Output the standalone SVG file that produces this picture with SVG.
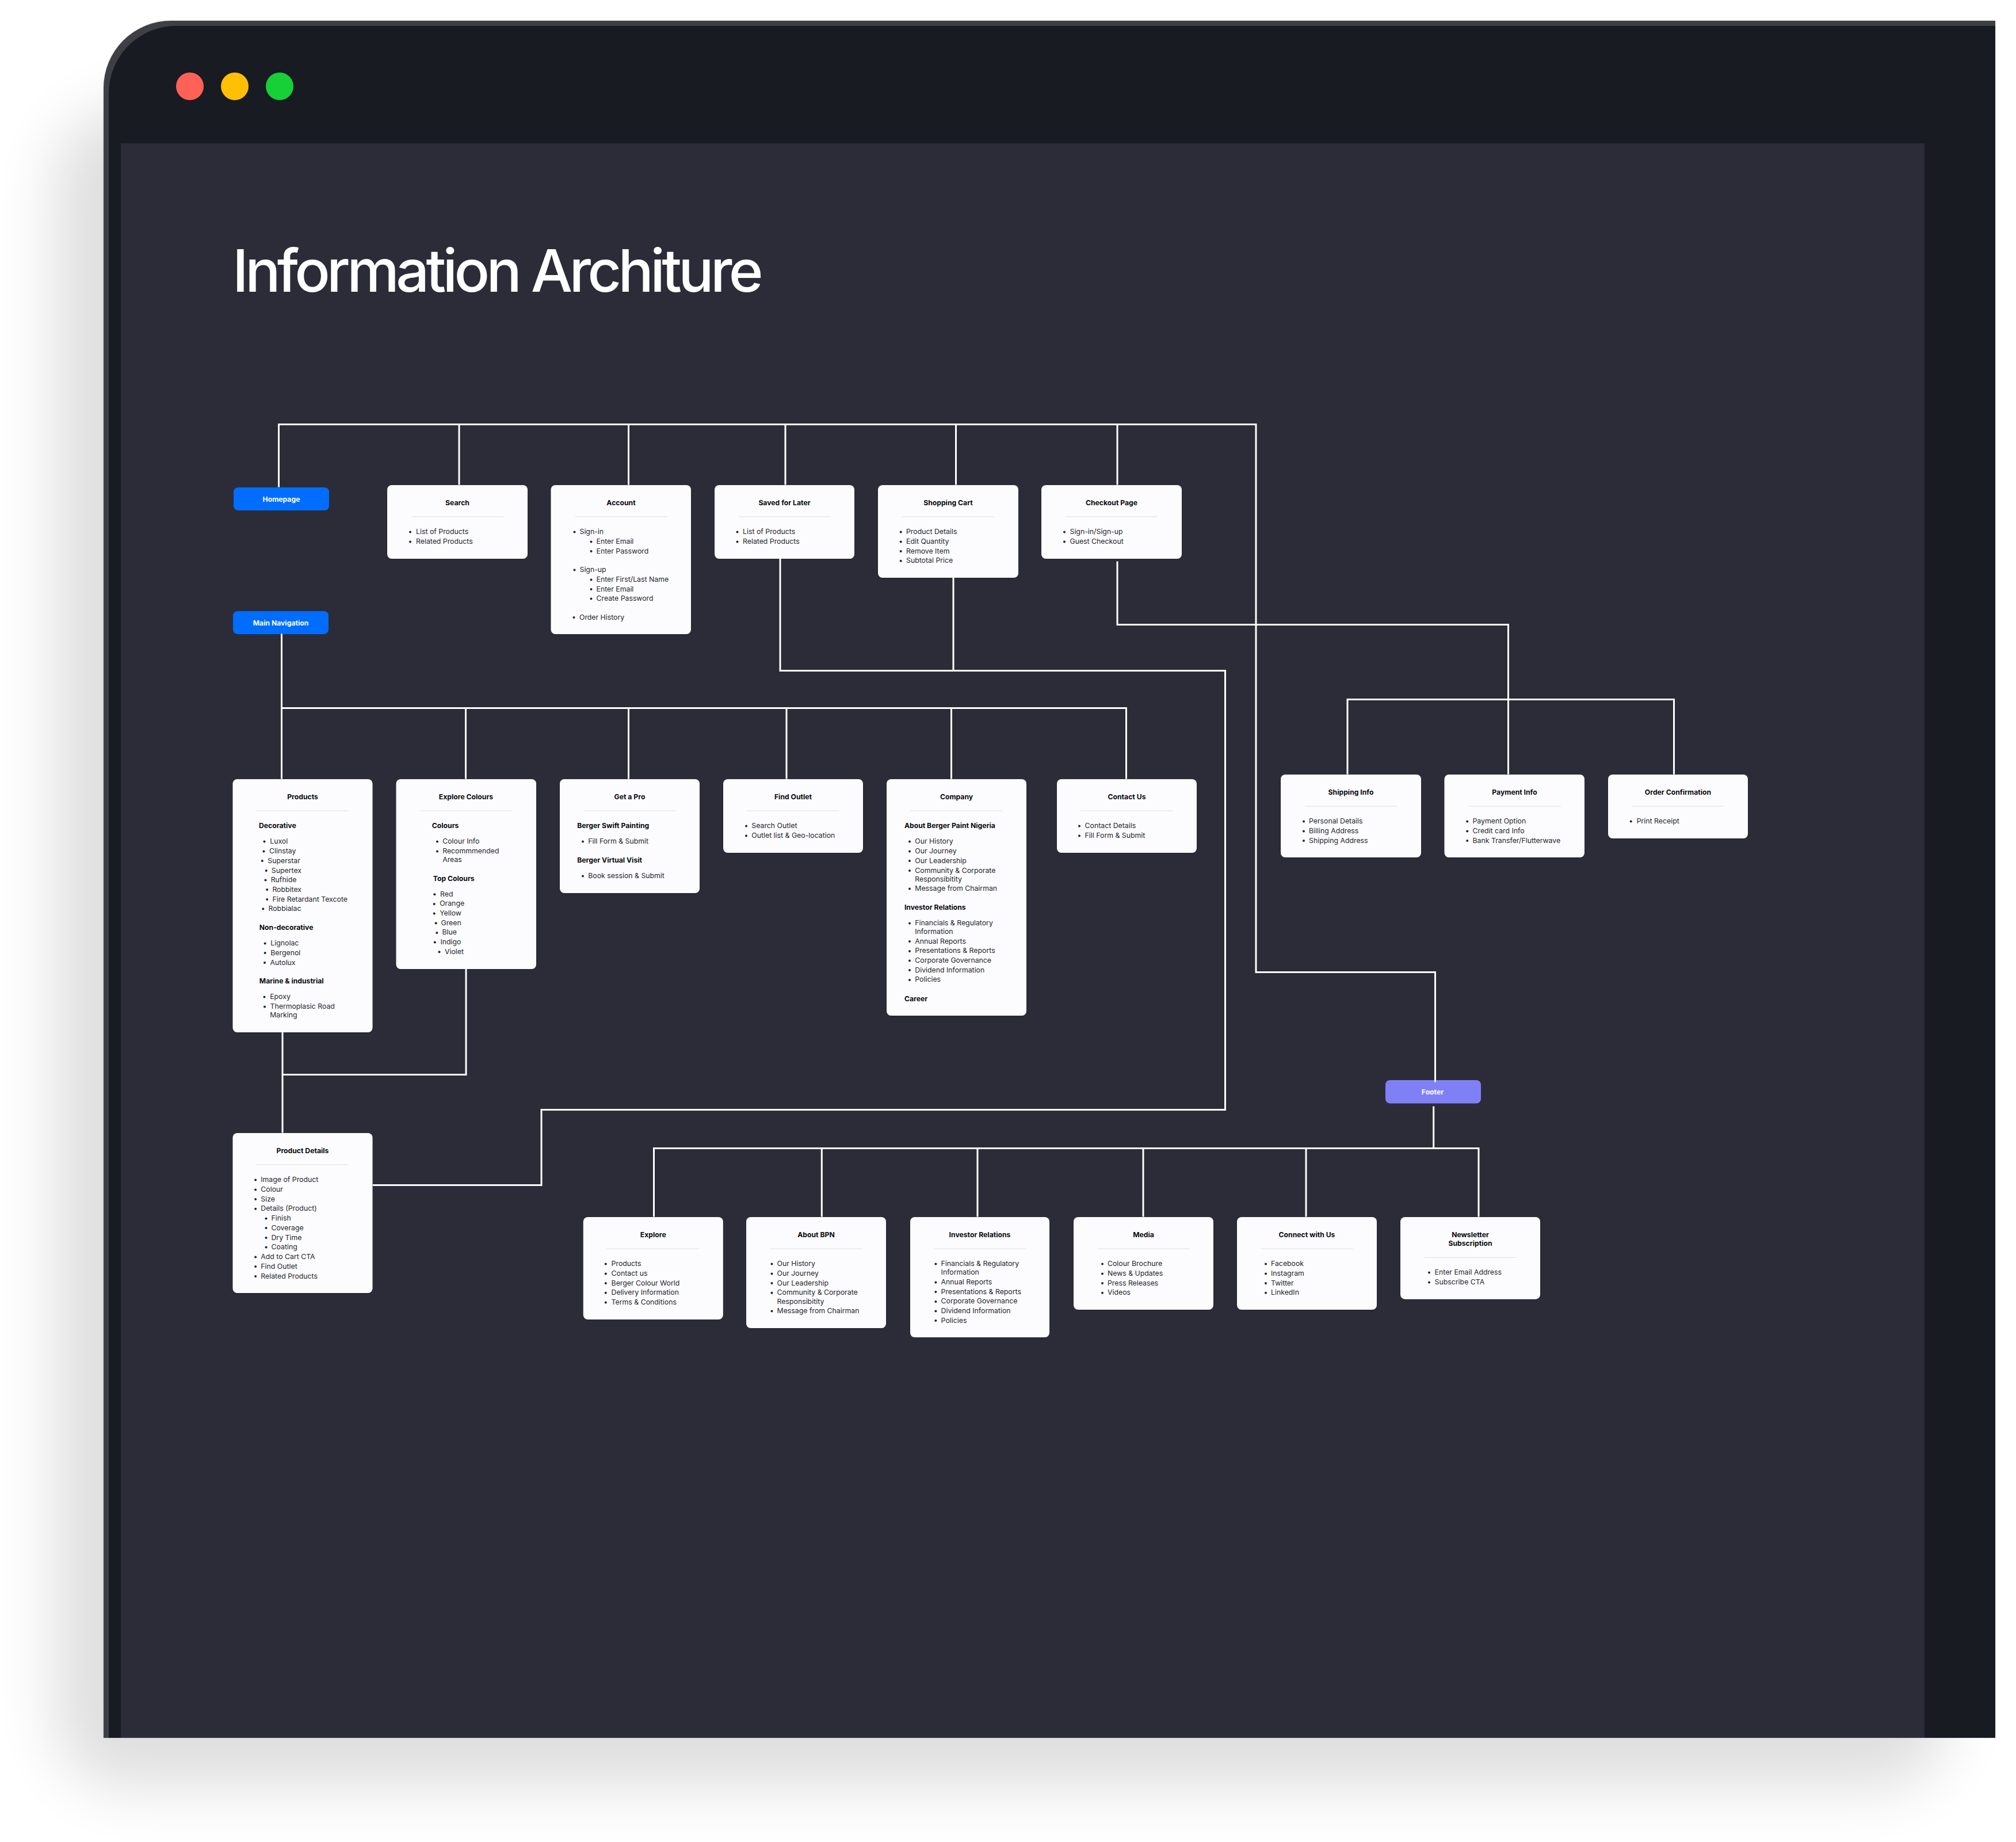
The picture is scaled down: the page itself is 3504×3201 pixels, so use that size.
<svg xmlns="http://www.w3.org/2000/svg" width="3504" height="3201" viewBox="0 0 3504 3201">
<style>
text{font-family:Inter,"Noto Sans","Liberation Sans",sans-serif}
.c{fill:#fcfcfe;filter:url(#cs)}
.d{stroke:#e8e8ec;stroke-width:1.5}
.t{font-size:12.2px;font-weight:700;fill:#0a0a0f;text-anchor:middle}
.h{font-size:12.2px;font-weight:700;fill:#0a0a0f}
.i{font-size:12.3px;fill:#24242c}
.b{fill:#24242c}
.p{font-size:12.2px;font-weight:700;fill:#fff;text-anchor:middle}
.l{fill:none;stroke:#fff;stroke-width:3}
</style>
<defs>
<filter id="big" x="-10%" y="-10%" width="120%" height="120%"><feGaussianBlur stdDeviation="52"/></filter>
<filter id="edge" x="-1%" y="-1%" width="102%" height="102%"><feGaussianBlur stdDeviation="1.5"/></filter>
<filter id="cs" x="-10%" y="-10%" width="120%" height="120%"><feDropShadow dx="0" dy="1" stdDeviation="1.2" flood-color="#000" flood-opacity=".2"/></filter>
</defs>
<rect width="3504" height="3201" fill="#fff"/>
<rect x="96" y="190" width="3290" height="2916" rx="120" fill="#000" opacity=".125" filter="url(#big)"/>
<path d="M180 3020V153A117 117 0 0 1 297 36H3468V3020Z" fill="#000" opacity=".16" filter="url(#edge)"/>
<g id="frame">
<path d="M180 3020V153A117 117 0 0 1 297 36H3468V3020Z" fill="#3f4046"/>
<path d="M189 3020V162A117 117 0 0 1 306 45H3468V3020Z" fill="#181b22"/>
<rect x="210" y="249" width="3135" height="2771" fill="#2c2c38"/>
<circle cx="330" cy="150" r="24" fill="#ff6157"/>
<circle cx="408" cy="150" r="24" fill="#ffbf05"/>
<circle cx="486" cy="150" r="24" fill="#17cf36"/>
<text x="404" y="507" font-size="102" font-weight="500" letter-spacing="-5.65" fill="#fff">Information Architure</text>
</g>
<g id="nodes" transform="translate(0,-1)">
<g id="homepage" transform="translate(406,848)"><rect width="166" height="40" rx="8" fill="#006dff"/><text class="p" x="83" y="25">Homepage</text></g>
<g id="main-navigation" transform="translate(405,1063)"><rect width="166" height="40" rx="8" fill="#006dff"/><text class="p" x="83" y="24.500">Main Navigation</text></g>
<g id="footer" transform="translate(2408,1878)"><rect width="166" height="40.500" rx="8" fill="#8080f6"/><text class="p" x="82" y="25">Footer</text></g>

<g id="search" transform="translate(673,844)"><rect class="c" width="244" height="128" rx="8"/><text class="t" x="122" y="35">Search</text><path class="d" d="M42 55H202"/>
<circle class="b" cx="40" cy="81.500" r="2"/><text class="i" x="50" y="85">List of Products</text>
<circle class="b" cx="40" cy="98.500" r="2"/><text class="i" x="50" y="102">Related Products</text></g>

<g id="account" transform="translate(957.500,844)"><rect class="c" width="243.500" height="259" rx="8"/><text class="t" x="122" y="35">Account</text><path class="d" d="M42 55H202"/>
<circle class="b" cx="41" cy="81.500" r="2"/><text class="i" x="50" y="85">Sign-in</text>
<circle class="b" cx="70" cy="98.500" r="2"/><text class="i" x="79" y="102">Enter Email</text>
<circle class="b" cx="70" cy="115" r="2"/><text class="i" x="79" y="118.500">Enter Password</text>
<circle class="b" cx="41" cy="147.500" r="2"/><text class="i" x="50" y="151">Sign-up</text>
<circle class="b" cx="70" cy="164.500" r="2"/><text class="i" x="79" y="168">Enter First/Last Name</text>
<circle class="b" cx="70" cy="181" r="2"/><text class="i" x="79" y="184.500">Enter Email</text>
<circle class="b" cx="70" cy="197.500" r="2"/><text class="i" x="79" y="201">Create Password</text>
<circle class="b" cx="40" cy="230" r="2"/><text class="i" x="49.500" y="233.500">Order History</text></g>

<g id="saved-for-later" transform="translate(1242,844)"><rect class="c" width="243" height="128" rx="8"/><text class="t" x="121.500" y="35">Saved for Later</text><path class="d" d="M41.500 55H201.500"/>
<circle class="b" cx="39.500" cy="81.500" r="2"/><text class="i" x="49" y="85">List of Products</text>
<circle class="b" cx="39.500" cy="98.500" r="2"/><text class="i" x="49" y="102">Related Products</text></g>

<g id="shopping-cart" transform="translate(1526,844)"><rect class="c" width="244" height="161" rx="8"/><text class="t" x="122" y="35">Shopping Cart</text><path class="d" d="M41.500 55H202"/>
<circle class="b" cx="39.700" cy="81.500" r="2"/><text class="i" x="49" y="85">Product Details</text>
<circle class="b" cx="39.700" cy="98.500" r="2"/><text class="i" x="49" y="102">Edit Quantity</text>
<circle class="b" cx="39.700" cy="115" r="2"/><text class="i" x="49" y="118.500">Remove Item</text>
<circle class="b" cx="39.700" cy="131.700" r="2"/><text class="i" x="49" y="135">Subtotal Price</text></g>

<g id="checkout-page" transform="translate(1810,844)"><rect class="c" width="244" height="128" rx="8"/><text class="t" x="122" y="35">Checkout Page</text><path class="d" d="M41.500 55H202"/>
<circle class="b" cx="40" cy="81.500" r="2"/><text class="i" x="49.500" y="85">Sign-in/Sign-up</text>
<circle class="b" cx="40" cy="98.500" r="2"/><text class="i" x="49.500" y="102">Guest Checkout</text></g>

<g id="products" transform="translate(404.500,1355)"><rect class="c" width="243" height="440" rx="8"/><text class="t" x="121.500" y="35">Products</text><path class="d" d="M41 55H201.500"/>
<text class="h" x="45.500" y="85">Decorative</text>
<circle class="b" cx="55" cy="108.500" r="2"/><text class="i" x="64.700" y="112">Luxol</text>
<circle class="b" cx="54" cy="125.500" r="2"/><text class="i" x="63.500" y="129">Clinstay</text>
<circle class="b" cx="51.300" cy="142" r="2"/><text class="i" x="60.800" y="145.500">Superstar</text>
<circle class="b" cx="58.200" cy="159" r="2"/><text class="i" x="67.300" y="162.500">Supertex</text>
<circle class="b" cx="57" cy="175.500" r="2"/><text class="i" x="66.200" y="179">Rufhide</text>
<circle class="b" cx="59.700" cy="192" r="2"/><text class="i" x="68.900" y="195.500">Robbitex</text>
<circle class="b" cx="59.700" cy="209" r="2"/><text class="i" x="68.900" y="212.500">Fire Retardant Texcote</text>
<circle class="b" cx="52.800" cy="225.500" r="2"/><text class="i" x="62" y="229">Robbialac</text>
<text class="h" x="46.300" y="262">Non-decorative</text>
<circle class="b" cx="56.200" cy="285.500" r="2"/><text class="i" x="65.800" y="289">Lignolac</text>
<circle class="b" cx="56.200" cy="302" r="2"/><text class="i" x="65.800" y="305.500">Bergenol</text>
<circle class="b" cx="55.500" cy="319" r="2"/><text class="i" x="65.100" y="322.500">Autolux</text>
<text class="h" x="46.300" y="355">Marine &amp; industrial</text>
<circle class="b" cx="55" cy="378.500" r="2"/><text class="i" x="64.700" y="382">Epoxy</text>
<circle class="b" cx="55.500" cy="395.500" r="2"/><text class="i" x="65" y="399">Thermoplasic Road</text>
<text class="i" x="64.700" y="414">Marking</text></g>

<g id="explore-colours" transform="translate(688.500,1355)"><rect class="c" width="243.500" height="330" rx="8"/><text class="t" x="121.500" y="35">Explore Colours</text><path class="d" d="M41 55H201.500"/>
<text class="h" x="62.300" y="85">Colours</text>
<circle class="b" cx="71.500" cy="108.500" r="2"/><text class="i" x="80.700" y="112">Colour Info</text>
<circle class="b" cx="71.500" cy="125.500" r="2"/><text class="i" x="80.700" y="129">Recommmended</text>
<text class="i" x="80.700" y="144">Areas</text>
<text class="h" x="64.300" y="177">Top Colours</text>
<circle class="b" cx="66.900" cy="200.200" r="2"/><text class="i" x="76.500" y="203.700">Red</text>
<circle class="b" cx="66.200" cy="217" r="2"/><text class="i" x="75.700" y="220.400">Orange</text>
<circle class="b" cx="66.200" cy="233.500" r="2"/><text class="i" x="75.700" y="237">Yellow</text>
<circle class="b" cx="69.200" cy="250.200" r="2"/><text class="i" x="78" y="253.700">Green</text>
<circle class="b" cx="70.800" cy="267" r="2"/><text class="i" x="79.900" y="270.400">Blue</text>
<circle class="b" cx="67.300" cy="283.500" r="2"/><text class="i" x="76.900" y="287">Indigo</text>
<circle class="b" cx="75" cy="300.200" r="2"/><text class="i" x="84.500" y="303.700">Violet</text></g>

<g id="get-a-pro" transform="translate(973,1355)"><rect class="c" width="243" height="198" rx="8"/><text class="t" x="121.500" y="35">Get a Pro</text><path class="d" d="M41 55H201.500"/>
<text class="h" x="30.300" y="85">Berger Swift Painting</text>
<circle class="b" cx="40" cy="108.500" r="2"/><text class="i" x="49.300" y="112">Fill Form &amp; Submit</text>
<text class="h" x="30.300" y="145">Berger Virtual Visit</text>
<circle class="b" cx="40" cy="168.500" r="2"/><text class="i" x="49.300" y="172">Book session &amp; Submit</text></g>

<g id="find-outlet" transform="translate(1257,1355)"><rect class="c" width="243" height="128" rx="8"/><text class="t" x="121.500" y="35">Find Outlet</text><path class="d" d="M41 55H201.500"/>
<circle class="b" cx="40" cy="81.500" r="2"/><text class="i" x="49.300" y="85">Search Outlet</text>
<circle class="b" cx="40" cy="98.500" r="2"/><text class="i" x="49.300" y="102">Outlet list &amp; Geo-location</text></g>

<g id="company" transform="translate(1541,1355)"><rect class="c" width="243" height="411" rx="8"/><text class="t" x="121.500" y="35">Company</text><path class="d" d="M41 55H201.500"/>
<text class="h" x="30.900" y="85">About Berger Paint Nigeria</text>
<circle class="b" cx="40" cy="108.500" r="2"/><text class="i" x="49.300" y="112">Our History</text>
<circle class="b" cx="40" cy="125.500" r="2"/><text class="i" x="49.300" y="129">Our Journey</text>
<circle class="b" cx="40" cy="142" r="2"/><text class="i" x="49.300" y="145.500">Our Leadership</text>
<circle class="b" cx="40" cy="159" r="2"/><text class="i" x="49.300" y="162.500">Community &amp; Corporate</text>
<text class="i" x="49.300" y="177.500">Responsibitity</text>
<circle class="b" cx="40" cy="190.500" r="2"/><text class="i" x="49.300" y="194">Message from Chairman</text>
<text class="h" x="30.900" y="227">Investor Relations</text>
<circle class="b" cx="40" cy="250.500" r="2"/><text class="i" x="49.300" y="254">Financials &amp; Regulatory</text>
<text class="i" x="49.300" y="269">Information</text>
<circle class="b" cx="40" cy="282" r="2"/><text class="i" x="49.300" y="285.700">Annual Reports</text>
<circle class="b" cx="40" cy="299" r="2"/><text class="i" x="49.300" y="302.400">Presentations &amp; Reports</text>
<circle class="b" cx="40" cy="315.500" r="2"/><text class="i" x="49.300" y="319">Corporate Governance</text>
<circle class="b" cx="40" cy="332" r="2"/><text class="i" x="49.300" y="335.700">Dividend Information</text>
<circle class="b" cx="40" cy="349" r="2"/><text class="i" x="49.300" y="352.400">Policies</text>
<text class="h" x="30.900" y="385.500">Career</text></g>

<g id="contact-us" transform="translate(1837,1355)"><rect class="c" width="243" height="128" rx="8"/><text class="t" x="121.500" y="35">Contact Us</text><path class="d" d="M41 55H201.500"/>
<circle class="b" cx="39" cy="81.500" r="2"/><text class="i" x="48.600" y="85">Contact Details</text>
<circle class="b" cx="39" cy="98.500" r="2"/><text class="i" x="48.600" y="102">Fill Form &amp; Submit</text></g>

<g id="shipping-info" transform="translate(2226,1347)"><rect class="c" width="244" height="144" rx="8"/><text class="t" x="122" y="35">Shipping Info</text><path class="d" d="M42 55H202"/>
<circle class="b" cx="40" cy="81.500" r="2"/><text class="i" x="49" y="85">Personal Details</text>
<circle class="b" cx="40" cy="98.500" r="2"/><text class="i" x="49" y="102">Billing Address</text>
<circle class="b" cx="40" cy="115" r="2"/><text class="i" x="49" y="118.500">Shipping Address</text></g>

<g id="payment-info" transform="translate(2510.500,1347)"><rect class="c" width="243.500" height="144" rx="8"/><text class="t" x="122" y="35">Payment Info</text><path class="d" d="M42 55H202"/>
<circle class="b" cx="39.700" cy="81.500" r="2"/><text class="i" x="49" y="85">Payment Option</text>
<circle class="b" cx="39.700" cy="98.500" r="2"/><text class="i" x="49" y="102">Credit card Info</text>
<circle class="b" cx="39.700" cy="115" r="2"/><text class="i" x="49" y="118.500">Bank Transfer/Flutterwave</text></g>

<g id="order-confirmation" transform="translate(2795,1347)"><rect class="c" width="243" height="111" rx="8"/><text class="t" x="121.500" y="35">Order Confirmation</text><path class="d" d="M41.500 55H201.500"/>
<circle class="b" cx="39.700" cy="81.500" r="2"/><text class="i" x="49.700" y="85">Print Receipt</text></g>

<g id="product-details" transform="translate(404.500,1970)"><rect class="c" width="243" height="278" rx="8"/><text class="t" x="121.500" y="35">Product Details</text><path class="d" d="M41 55H201.500"/>
<circle class="b" cx="39.600" cy="81.500" r="2"/><text class="i" x="48.800" y="85">Image of Product</text>
<circle class="b" cx="39.600" cy="98.500" r="2"/><text class="i" x="48.800" y="102">Colour</text>
<circle class="b" cx="39.600" cy="115" r="2"/><text class="i" x="48.800" y="118.500">Size</text>
<circle class="b" cx="39.600" cy="131.700" r="2"/><text class="i" x="48.800" y="135">Details (Product)</text>
<circle class="b" cx="58" cy="148.500" r="2"/><text class="i" x="67" y="152">Finish</text>
<circle class="b" cx="58" cy="165" r="2"/><text class="i" x="67" y="169">Coverage</text>
<circle class="b" cx="58" cy="182" r="2"/><text class="i" x="67" y="185.500">Dry Time</text>
<circle class="b" cx="58" cy="198.500" r="2"/><text class="i" x="67" y="202">Coating</text>
<circle class="b" cx="39.600" cy="215.500" r="2"/><text class="i" x="48.800" y="219">Add to Cart CTA</text>
<circle class="b" cx="39.600" cy="232" r="2"/><text class="i" x="48.800" y="236">Find Outlet</text>
<circle class="b" cx="39.600" cy="249" r="2"/><text class="i" x="48.800" y="252.500">Related Products</text></g>

<g id="footer-explore" transform="translate(1013.800,2116)"><rect class="c" width="243" height="178" rx="8"/><text class="t" x="121.500" y="35">Explore</text><path class="d" d="M41 55H201.500"/>
<circle class="b" cx="39" cy="81.500" r="2"/><text class="i" x="48.800" y="85">Products</text>
<circle class="b" cx="39" cy="98.500" r="2"/><text class="i" x="48.800" y="102">Contact us</text>
<circle class="b" cx="39" cy="115" r="2"/><text class="i" x="48.800" y="118.500">Berger Colour World</text>
<circle class="b" cx="39" cy="131.700" r="2"/><text class="i" x="48.800" y="135">Delivery Information</text>
<circle class="b" cx="39" cy="148.500" r="2"/><text class="i" x="48.800" y="152">Terms &amp; Conditions</text></g>

<g id="about-bpn" transform="translate(1297,2116)"><rect class="c" width="243" height="193" rx="8"/><text class="t" x="121.500" y="35">About BPN</text><path class="d" d="M41.500 55H202"/>
<circle class="b" cx="44.500" cy="81.500" r="2"/><text class="i" x="53.600" y="85">Our History</text>
<circle class="b" cx="44.500" cy="98.500" r="2"/><text class="i" x="53.600" y="102">Our Journey</text>
<circle class="b" cx="44.500" cy="115" r="2"/><text class="i" x="53.600" y="118.500">Our Leadership</text>
<circle class="b" cx="44.500" cy="131.700" r="2"/><text class="i" x="53.600" y="135">Community &amp; Corporate</text>
<text class="i" x="53.600" y="150.500">Responsibitity</text>
<circle class="b" cx="44.500" cy="163.500" r="2"/><text class="i" x="53.600" y="167">Message from Chairman</text></g>

<g id="investor-relations" transform="translate(1582,2116)"><rect class="c" width="242" height="209" rx="8"/><text class="t" x="121" y="35">Investor Relations</text><path class="d" d="M41 55H201"/>
<circle class="b" cx="44.400" cy="81.500" r="2"/><text class="i" x="53.600" y="85">Financials &amp; Regulatory</text>
<text class="i" x="53.600" y="100">Information</text>
<circle class="b" cx="44.400" cy="113.500" r="2"/><text class="i" x="53.600" y="117">Annual Reports</text>
<circle class="b" cx="44.400" cy="130" r="2"/><text class="i" x="53.600" y="133.700">Presentations &amp; Reports</text>
<circle class="b" cx="44.400" cy="147" r="2"/><text class="i" x="53.600" y="150.400">Corporate Governance</text>
<circle class="b" cx="44.400" cy="163.500" r="2"/><text class="i" x="53.600" y="167">Dividend Information</text>
<circle class="b" cx="44.400" cy="180" r="2"/><text class="i" x="53.600" y="183.700">Policies</text></g>

<g id="media" transform="translate(1866,2116)"><rect class="c" width="243" height="161" rx="8"/><text class="t" x="121.500" y="35">Media</text><path class="d" d="M41.500 55H201.500"/>
<circle class="b" cx="50" cy="81.500" r="2"/><text class="i" x="59" y="85">Colour Brochure</text>
<circle class="b" cx="50" cy="98.500" r="2"/><text class="i" x="59" y="102">News &amp; Updates</text>
<circle class="b" cx="50" cy="115" r="2"/><text class="i" x="59" y="118.500">Press Releases</text>
<circle class="b" cx="50" cy="131.700" r="2"/><text class="i" x="59" y="135">Videos</text></g>

<g id="connect-with-us" transform="translate(2150,2116)"><rect class="c" width="243" height="161" rx="8"/><text class="t" x="121.500" y="35">Connect with Us</text><path class="d" d="M41.500 55H201.500"/>
<circle class="b" cx="50" cy="81.500" r="2"/><text class="i" x="59" y="85">Facebook</text>
<circle class="b" cx="50" cy="98.500" r="2"/><text class="i" x="59" y="102">Instagram</text>
<circle class="b" cx="50" cy="115" r="2"/><text class="i" x="59" y="118.500">Twitter</text>
<circle class="b" cx="50" cy="131.700" r="2"/><text class="i" x="59" y="135">LinkedIn</text></g>

<g id="newsletter-subscription" transform="translate(2434,2116)"><rect class="c" width="243" height="142.700" rx="8"/><text class="t" x="121.500" y="35">Newsletter</text><text class="t" x="121.500" y="50">Subscription</text><path class="d" d="M41.500 70.300H201.500"/>
<circle class="b" cx="50" cy="96.500" r="2"/><text class="i" x="59.600" y="100">Enter Email Address</text>
<circle class="b" cx="50" cy="113.500" r="2"/><text class="i" x="59.600" y="117">Subscribe CTA</text></g>
</g>
<g id="connectors" transform="translate(0,-0.5)">
<path class="l" d="M484.500 847V738H2183V1690H2494.500V1881"/>
<path class="l" d="M798 738V843M1092.500 738V843M1365 738V843M1661.500 738V843M1942 738V843"/>
<path class="l" d="M1356 971V1166H2129.500V1929H941V2060H648M1657 1004V1166"/>
<path class="l" d="M1942 976V1086H2621.500V1346M2342 1346V1216H2909.500V1346"/>
<path class="l" d="M489.500 1102V1354M490 1231H1957.500V1354M809.500 1231V1354M1092.500 1231V1354M1367 1231V1354M1653.500 1231V1354"/>
<path class="l" d="M491 1794V1969M810 1684V1868H491"/>
<path class="l" d="M2491.700 1923V1996M1136.500 2115V1996H2570V2115M1428.300 1996V2115M1699 1996V2115M1987 1996V2115M2270 1996V2115"/>
</g>
</svg>
